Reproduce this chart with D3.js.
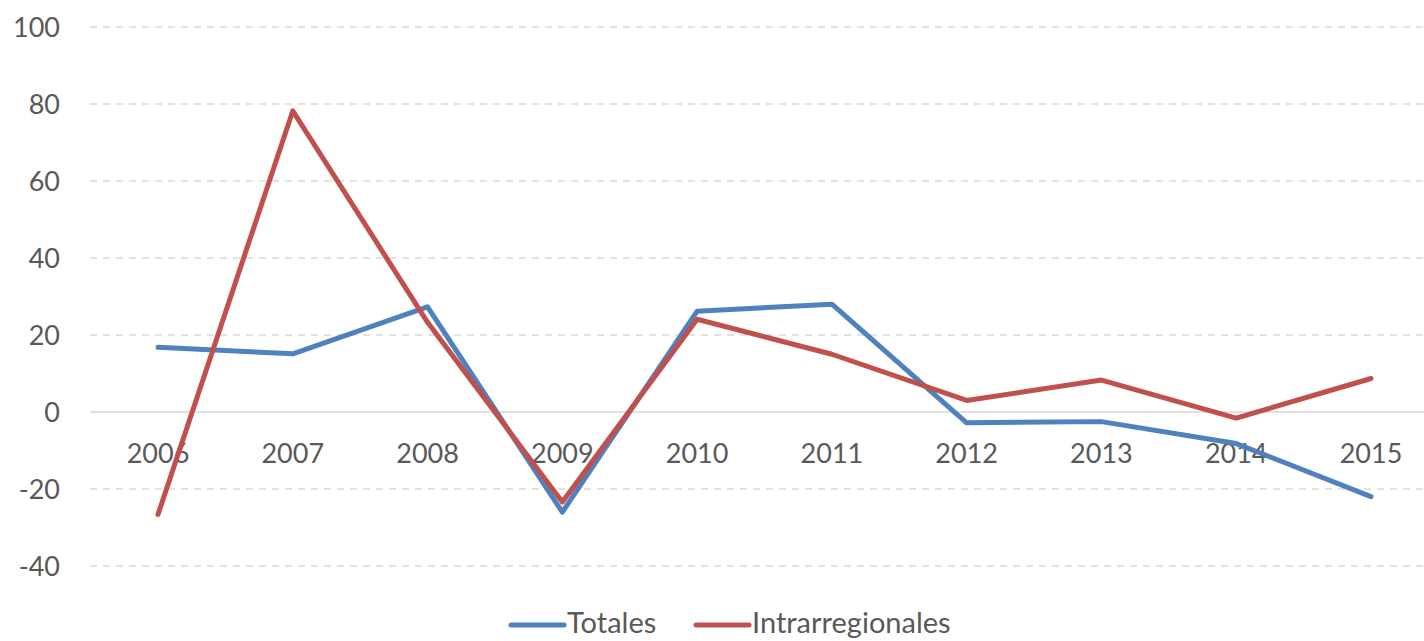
<!DOCTYPE html>
<html><head><meta charset="utf-8">
<script src="https://cdn.jsdelivr.net/npm/d3@7"></script>
<style>body{margin:0;background:#fff;}svg{display:block;font-family:Lato,"Open Sans","Liberation Sans",sans-serif;}</style>
</head><body><svg id="c" width="1424" height="641"></svg>
<script>
const years = ["2006","2007","2008","2009","2010","2011","2012","2013","2014","2015"];
const totales = [16.8, 15.1, 27.3, -26.0, 26.2, 28.0, -2.8, -2.5, -8.2, -22.0];
const intrarregionales = [-26.6, 78.2, 23.3, -23.4, 24.1, 15.0, 3.0, 8.3, -1.6, 8.7];
const yTicks = [-40, -20, 0, 20, 40, 60, 80, 100];
const seriesNames = ["Totales", "Intrarregionales"];
const colors = ["#4f81bd", "#c0504d"];

const svg = d3.select("#c");
const y = d3.scaleLinear().domain([-40, 100]).range([566, 27]);
const x = d3.scalePoint().domain(years).range([158, 1371]);

svg.append("g").selectAll("line").data(yTicks).join("line")
  .attr("x1", 90).attr("x2", 1424)
  .attr("y1", d => y(d)).attr("y2", d => y(d))
  .attr("stroke", "#d9d9d9").attr("stroke-width", 1.5)
  .attr("stroke-dasharray", d => d === 0 ? null : "7,6");

svg.append("g").selectAll("text").data(yTicks).join("text")
  .attr("x", 60).attr("y", d => y(d)).attr("dy", "0.36em")
  .attr("text-anchor", "end").attr("fill", "#595959").attr("font-size", 27)
  .text(d => d);

svg.append("g").selectAll("text").data(years).join("text")
  .attr("x", d => x(d)).attr("y", 463)
  .attr("text-anchor", "middle").attr("fill", "#595959").attr("font-size", 27)
  .text(d => d);

const line = d3.line().x((d, i) => x(years[i])).y(d => y(d));
[totales, intrarregionales].forEach((s, i) => {
  svg.append("path").datum(s).attr("d", line)
    .attr("fill", "none").attr("stroke", colors[i]).attr("stroke-width", 5)
    .attr("stroke-linecap", "round").attr("stroke-linejoin", "round");
});

const leg = [{x: 511}, {x: 696}];
seriesNames.forEach((n, i) => {
  const g = svg.append("g");
  g.append("line").attr("x1", leg[i].x).attr("x2", leg[i].x + 53)
    .attr("y1", 625).attr("y2", 625).attr("stroke", colors[i]).attr("stroke-width", 5)
    .attr("stroke-linecap", "round");
  g.append("text").attr("x", leg[i].x + 56).attr("y", 633)
    .attr("fill", "#595959").attr("font-size", 29).text(n);
});
</script></body></html>
